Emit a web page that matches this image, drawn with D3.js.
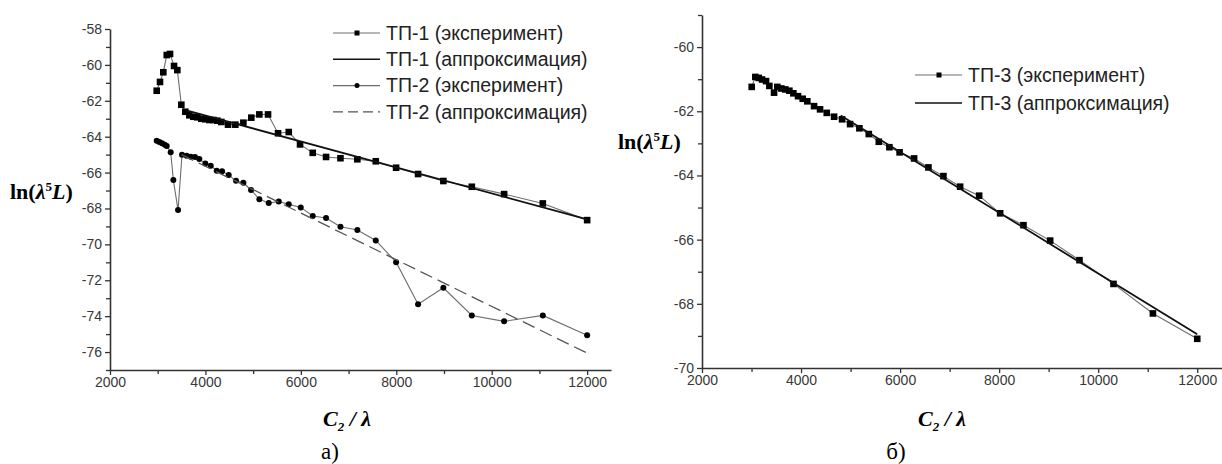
<!DOCTYPE html>
<html>
<head>
<meta charset="utf-8">
<script src="https://cdn.jsdelivr.net/npm/d3@7"></script>
<style>
  html, body { margin: 0; padding: 0; background: #fff; }
  svg { display: block; }
  .tick text { font-family: "Liberation Sans", Arial, sans-serif; font-size: 14px; fill: #383838; }
  .legend text { font-family: "Liberation Sans", Arial, sans-serif; font-size: 19.5px; fill: #222; }
  .serif { font-family: "Liberation Serif", "Times New Roman", serif; fill: #000; }
</style>
</head>
<body>
<svg id="chart" width="1222" height="464"></svg>
<script>
// ТП-1, experiment
const tp1X = [2979, 3048, 3117, 3189, 3258, 3342, 3411, 3495, 3579, 3663, 3747, 3830, 3914, 3998, 4082,
  4166, 4250, 4333, 4474, 4627, 4795, 4962, 5130, 5312, 5522, 5746, 5983, 6249, 6528, 6830, 7184,
  7570, 7996, 8457, 8987, 9583, 10260, 11071, 12000];
const tp1Y = [-61.44, -60.95, -60.41, -59.45, -59.39, -60.06, -60.29, -62.22, -62.61, -62.81, -62.89,
  -62.92, -63.0, -63.03, -63.07, -63.07, -63.11, -63.18, -63.33, -63.33, -63.22, -62.94, -62.76, -62.76,
  -63.81, -63.74, -64.43, -64.9, -65.13, -65.2, -65.26, -65.37, -65.73, -66.08, -66.47, -66.79, -67.2,
  -67.72, -68.65];
// ТП-1, approximation
const tp1FitX = [3600, 12000];
const tp1FitY = [-62.53, -68.61];

// ТП-2, experiment
const tp2X = [2979, 3034, 3090, 3147, 3189, 3272, 3328, 3426, 3509, 3607, 3692, 3782, 3872, 3998, 4111,
  4237, 4348, 4488, 4641, 4795, 4956, 5130, 5327, 5537, 5746, 5998, 6249, 6528, 6830, 7184, 7570, 7996,
  8457, 8987, 9583, 10260, 11071, 12000];
const tp2Y = [-64.22, -64.3, -64.37, -64.45, -64.52, -64.87, -66.42, -68.09, -65.0, -65.06, -65.12,
  -65.13, -65.25, -65.49, -65.62, -65.9, -65.92, -66.14, -66.46, -66.57, -66.97, -67.48, -67.7, -67.61,
  -67.77, -67.94, -68.42, -68.53, -69.02, -69.2, -69.78, -70.99, -73.33, -72.42, -73.96, -74.29,
  -73.96, -75.07];
// ТП-2, approximation
const tp2FitX = [3500, 12000];
const tp2FitY = [-65.0, -76.06];

// ТП-3, experiment
const tp3X = [3004, 3077, 3145, 3212, 3293, 3360, 3455, 3521, 3602, 3683, 3764, 3845, 3939, 4034, 4127,
  4263, 4384, 4519, 4667, 4828, 4990, 5178, 5368, 5570, 5784, 5990, 6283, 6572, 6875, 7212, 7596, 8020,
  8491, 9030, 9622, 10309, 11105, 12000];
const tp3Y = [-61.24, -60.93, -60.96, -61.01, -61.06, -61.21, -61.42, -61.24, -61.29, -61.32, -61.36,
  -61.44, -61.53, -61.61, -61.69, -61.84, -61.94, -62.05, -62.17, -62.25, -62.4, -62.53, -62.71, -62.95,
  -63.12, -63.28, -63.47, -63.75, -64.02, -64.35, -64.63, -65.18, -65.55, -66.03, -66.64, -67.38, -68.3,
  -69.09];
// ТП-3, approximation
const tp3FitX = [4800, 12000];
const tp3FitY = [-62.13, -68.95];

// Axis ticks
const xTicks = [2000, 3000, 4000, 5000, 6000, 7000, 8000, 9000, 10000, 11000, 12000];
const xTickLabels = ["2000", "", "4000", "", "6000", "", "8000", "", "10000", "", "12000"];
const yTicksA = d3.range(-77, -57, 1);
const yTicksB = d3.range(-70, -58, 1);

const legendA = ["ТП-1 (эксперимент)", "ТП-1 (аппроксимация)", "ТП-2 (эксперимент)", "ТП-2 (аппроксимация)"];
const legendB = ["ТП-3 (эксперимент)", "ТП-3 (аппроксимация)"];

const svg = d3.select("#chart");
const zip = (xs, ys) => xs.map((x, i) => [x, ys[i]]);

function panel(cfg) {
  const g = svg.append("g");
  const x = d3.scaleLinear().domain([2000, 12500]).range([cfg.left, cfg.right]);
  const y = d3.scaleLinear().domain(cfg.yDomain).range([cfg.bottom, cfg.top]);

  // x axis
  const xa = g.append("g").attr("transform", `translate(0,${cfg.bottom})`)
    .call(d3.axisBottom(x).tickValues(xTicks)
      .tickSize(0).tickPadding(7)
      .tickFormat((d, i) => xTickLabels[i]));
  xa.select(".domain").attr("stroke", "#333").attr("stroke-width", 1.6);
  xa.selectAll(".tick").append("line")
    .attr("y2", (d, i) => xTickLabels[i] ? 5 : 4)
    .attr("stroke", "#333").attr("stroke-width", 1.3);

  // y axis
  const ya = g.append("g").attr("transform", `translate(${cfg.left},0)`)
    .call(d3.axisLeft(y).tickValues(cfg.yTicks).tickSize(0).tickPadding(8)
      .tickFormat(d => (d % 2 === 0 && (d !== cfg.yDomain[1] || cfg.labelTop)) ? d3.format("d")(d).replace("−", "-") : ""));
  ya.select(".domain").attr("stroke", "#333").attr("stroke-width", 1.6);
  ya.selectAll(".tick").append("line")
    .attr("x2", d => d % 2 === 0 ? -5 : -4)
    .attr("stroke", "#333").attr("stroke-width", 1.3);

  const line = d3.line().x(d => x(d[0])).y(d => y(d[1]));

  cfg.series.forEach(s => {
    const pts = zip(s.xs, s.ys);
    if (s.kind === "exp") {
      g.append("path").attr("d", line(pts)).attr("fill", "none")
        .attr("stroke", "#6e6e6e").attr("stroke-width", 1.1);
      if (s.marker === "square") {
        g.selectAll(null).data(pts).enter().append("rect")
          .attr("x", d => x(d[0]) - 3.3).attr("y", d => y(d[1]) - 3.3)
          .attr("width", 6.6).attr("height", 6.6).attr("fill", "#000");
      } else {
        g.selectAll(null).data(pts).enter().append("circle")
          .attr("cx", d => x(d[0])).attr("cy", d => y(d[1])).attr("r", 3).attr("fill", "#000");
      }
    } else {
      g.append("path").attr("d", line(pts)).attr("fill", "none")
        .attr("stroke", s.dashed ? "#555" : "#111")
        .attr("stroke-width", s.dashed ? 1.3 : 1.8)
        .attr("stroke-dasharray", s.dashed ? "13,6" : null);
    }
  });

  // legend
  const lg = g.append("g").attr("class", "legend");
  cfg.legend.forEach((txt, i) => {
    const s = cfg.series[i];
    const ly = cfg.legendY + i * cfg.legendStep;
    const row = lg.append("g").attr("transform", `translate(${cfg.legendX},${ly})`);
    row.append("line").attr("x1", 0).attr("x2", 47).attr("y1", 0).attr("y2", 0)
      .attr("stroke", s.kind === "exp" ? "#6e6e6e" : (s.dashed ? "#555" : "#111"))
      .attr("stroke-width", s.kind === "exp" ? 1.1 : (s.dashed ? 1.3 : 1.6))
      .attr("stroke-dasharray", s.dashed ? "10,5" : null);
    if (s.kind === "exp") {
      if (s.marker === "square") {
        row.append("rect").attr("x", 21.5).attr("y", -2.5).attr("width", 5).attr("height", 5).attr("fill", "#000");
      } else {
        row.append("circle").attr("cx", 24).attr("cy", 0).attr("r", 2.5).attr("fill", "#000");
      }
    }
    row.append("text").attr("x", 53).attr("y", 0).attr("dy", "0.35em").text(txt);
  });

  // y axis title
  const yt = g.append("text").attr("class", "serif")
    .attr("x", cfg.yTitleX).attr("y", cfg.yTitleY)
    .attr("font-size", 22).attr("font-weight", "bold");
  yt.append("tspan").text("ln(");
  yt.append("tspan").attr("font-style", "italic").text("λ");
  yt.append("tspan").attr("font-size", 13).attr("dy", -8).text("5");
  yt.append("tspan").attr("font-style", "italic").attr("dy", 8).text("L");
  yt.append("tspan").text(")");

  // x axis title
  const xt = g.append("text").attr("class", "serif")
    .attr("x", cfg.xTitleX).attr("y", 426).attr("text-anchor", "middle")
    .attr("font-size", 22).attr("font-weight", "bold").attr("font-style", "italic");
  xt.append("tspan").text("C");
  xt.append("tspan").attr("font-size", 13).attr("dy", 5).text("2");
  xt.append("tspan").attr("dy", -5).text(" / λ");

  g.append("text").attr("class", "serif")
    .attr("x", cfg.captionX).attr("y", 459).attr("text-anchor", "middle")
    .attr("font-size", 23).text(cfg.caption);
}

panel({
  left: 110, right: 611, top: 29, bottom: 370,
  yDomain: [-77, -58], yTicks: yTicksA, labelTop: true,
  series: [
    { kind: "exp", marker: "square", xs: tp1X, ys: tp1Y },
    { kind: "fit", xs: tp1FitX, ys: tp1FitY },
    { kind: "exp", marker: "circle", xs: tp2X, ys: tp2Y },
    { kind: "fit", dashed: true, xs: tp2FitX, ys: tp2FitY }
  ],
  legend: legendA, legendX: 333, legendY: 33, legendStep: 26.3,
  yTitleX: 10, yTitleY: 199, xTitleX: 347, captionX: 330, caption: "а)"
});

panel({
  left: 702, right: 1222, top: 15, bottom: 368,
  yDomain: [-70, -59], yTicks: yTicksB, labelTop: false,
  series: [
    { kind: "exp", marker: "square", xs: tp3X, ys: tp3Y },
    { kind: "fit", xs: tp3FitX, ys: tp3FitY }
  ],
  legend: legendB, legendX: 915, legendY: 75, legendStep: 28,
  yTitleX: 618, yTitleY: 149, xTitleX: 942, captionX: 896, caption: "б)"
});
</script>
</body>
</html>
